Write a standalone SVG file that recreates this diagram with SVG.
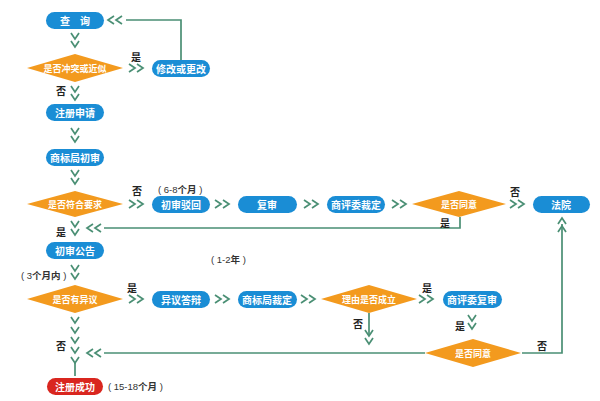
<svg xmlns="http://www.w3.org/2000/svg" width="600" height="401" viewBox="0 0 600 401">
<style>
.p{fill:#1a8dd5}
.d{fill:#f39a1e}
.r{fill:#d9261f}
.t{font-family:"Noto Sans CJK SC","Liberation Sans",sans-serif;font-size:10px;font-weight:bold;fill:#fff;text-anchor:middle;dominant-baseline:central}
.dt{font-size:9px}
.l{font-family:"Noto Sans CJK SC","Liberation Sans",sans-serif;font-size:10px;font-weight:bold;fill:#222;text-anchor:middle;dominant-baseline:central}
.n{font-family:"Liberation Sans","Noto Sans CJK SC",sans-serif;font-size:9.5px;fill:#333;dominant-baseline:central}
.c{fill:none;stroke:#4a8f74;stroke-width:1.7}
</style>
<defs>
<path id="dn" d="M-4,-3 L0,3 L4,-3"/>
<path id="up" d="M-4,3 L0,-3 L4,3"/>
<path id="rt" d="M-3,-4 L3,0 L-3,4"/>
<path id="lt" d="M3,-4 L-3,0 L3,4"/>
</defs>
<rect width="600" height="401" fill="#fff"/>

<g id="connectors" class="c">
<path d="M181,60 V20 H126"/>
<use href="#lt" x="111" y="20"/><use href="#lt" x="119" y="20"/>
<use href="#dn" x="75" y="36"/><use href="#dn" x="75" y="44"/>
<use href="#dn" x="75" y="89"/><use href="#dn" x="75" y="97"/>
<use href="#dn" x="75" y="131"/><use href="#dn" x="75" y="139"/>
<use href="#dn" x="75" y="173"/><use href="#dn" x="75" y="181"/>
<use href="#dn" x="75" y="224"/><use href="#dn" x="75" y="232"/>
<use href="#dn" x="75" y="268"/><use href="#dn" x="75" y="276"/>
<use href="#dn" x="75" y="320"/><use href="#dn" x="75" y="330"/><use href="#dn" x="75" y="340"/><use href="#dn" x="75" y="350"/><use href="#dn" x="75" y="360"/>
<path d="M75,363 V376"/>
<use href="#rt" x="132" y="68"/><use href="#rt" x="140" y="68"/>
<use href="#rt" x="132" y="204"/><use href="#rt" x="140" y="204"/>
<use href="#rt" x="218" y="204"/><use href="#rt" x="226" y="204"/>
<use href="#rt" x="307" y="204"/><use href="#rt" x="315" y="204"/>
<use href="#rt" x="395" y="204"/><use href="#rt" x="403" y="204"/>
<use href="#rt" x="513" y="204"/><use href="#rt" x="521" y="204"/>
<use href="#rt" x="132" y="299"/><use href="#rt" x="140" y="299"/>
<use href="#rt" x="218" y="299"/><use href="#rt" x="226" y="299"/>
<use href="#rt" x="304" y="299"/><use href="#rt" x="312" y="299"/>
<use href="#rt" x="422" y="299"/><use href="#rt" x="430" y="299"/>
<path d="M460,217 V228 H104"/>
<use href="#lt" x="90" y="228"/><use href="#lt" x="98" y="228"/>
<path d="M369,313 V336"/>
<use href="#dn" x="369" y="333"/><use href="#dn" x="369" y="341"/>
<use href="#dn" x="472" y="318"/><use href="#dn" x="472" y="326"/>
<path d="M425,353 H104"/>
<use href="#lt" x="90" y="353"/><use href="#lt" x="98" y="353"/>
<path d="M522,353 H562 V224"/>
<use href="#up" x="562" y="221"/><use href="#up" x="562" y="229"/>
</g>

<g id="n-chaxun"><rect class="p" x="46" y="12" width="58" height="17" rx="8.5"/><text class="t" x="75" y="20.5">查　询</text></g>
<g id="n-conflict"><polygon class="d" points="27,68 75,54 123,68 75,82"/><text class="t dt" x="75" y="68">是否冲突或近似</text></g>
<g id="n-modify"><rect class="p" x="152" y="60" width="58" height="17" rx="8.5"/><text class="t" x="181" y="68.5">修改或更改</text></g>
<g id="n-apply"><rect class="p" x="46" y="104" width="58" height="17" rx="8.5"/><text class="t" x="75" y="112.5">注册申请</text></g>
<g id="n-review"><rect class="p" x="46" y="149" width="58" height="17" rx="8.5"/><text class="t" x="75" y="157.5">商标局初审</text></g>
<g id="n-meet"><polygon class="d" points="27,204 75,191 123,204 75,217"/><text class="t dt" x="75" y="204">是否符合要求</text></g>
<g id="n-reject"><rect class="p" x="152" y="196" width="58" height="17" rx="8.5"/><text class="t" x="181" y="204.5">初审驳回</text></g>
<g id="n-recheck"><rect class="p" x="238" y="196" width="59" height="17" rx="8.5"/><text class="t" x="267" y="204.5">复审</text></g>
<g id="n-tradj"><rect class="p" x="327" y="196" width="58" height="17" rx="8.5"/><text class="t" x="356" y="204.5">商评委裁定</text></g>
<g id="n-agree1"><polygon class="d" points="412,204 459,191 506,204 459,217"/><text class="t dt" x="459" y="204">是否同意</text></g>
<g id="n-court"><rect class="p" x="533" y="196" width="57" height="17" rx="8.5"/><text class="t" x="561" y="204.5">法院</text></g>
<g id="n-announce"><rect class="p" x="46" y="242" width="58" height="17" rx="8.5"/><text class="t" x="75" y="250.5">初审公告</text></g>
<g id="n-objection"><polygon class="d" points="27,299 75,285 123,299 75,313"/><text class="t dt" x="75" y="299">是否有异议</text></g>
<g id="n-reply"><rect class="p" x="152" y="291" width="58" height="17" rx="8.5"/><text class="t" x="181" y="299.5">异议答辩</text></g>
<g id="n-tmadj"><rect class="p" x="238" y="291" width="59" height="17" rx="8.5"/><text class="t" x="267" y="299.5">商标局裁定</text></g>
<g id="n-reason"><polygon class="d" points="321,299 369,285 417,299 369,313"/><text class="t dt" x="369" y="299">理由是否成立</text></g>
<g id="n-trreview"><rect class="p" x="443" y="291" width="59" height="17" rx="8.5"/><text class="t" x="472" y="299.5">商评委复审</text></g>
<g id="n-agree2"><polygon class="d" points="425,353 473,339 521,353 473,367"/><text class="t dt" x="473" y="353">是否同意</text></g>
<g id="n-success"><rect class="r" x="47" y="378" width="56" height="17" rx="8.5"/><text class="t" x="75" y="386.5">注册成功</text></g>

<g id="labels">
<text class="l" x="136" y="56">是</text>
<text class="l" x="61" y="90">否</text>
<text class="l" x="137" y="190">否</text>
<text class="l" x="61" y="231">是</text>
<text class="l" x="515" y="191">否</text>
<text class="l" x="445" y="222">是</text>
<text class="l" x="132" y="287">是</text>
<text class="l" x="61" y="345">否</text>
<text class="l" x="427" y="287">是</text>
<text class="l" x="358" y="323">否</text>
<text class="l" x="460" y="325">是</text>
<text class="l" x="542" y="345">否</text>
<text class="n" x="158" y="189">( 6-8<tspan font-weight="bold" font-family="Noto Sans CJK SC,sans-serif">个月</tspan> )</text>
<text class="n" x="211" y="259">( 1-2<tspan font-weight="bold" font-family="Noto Sans CJK SC,sans-serif">年</tspan> )</text>
<text class="n" x="21" y="275">( 3<tspan font-weight="bold" font-family="Noto Sans CJK SC,sans-serif">个月内</tspan> )</text>
<text class="n" x="108" y="386">( 15-18<tspan font-weight="bold" font-family="Noto Sans CJK SC,sans-serif">个月</tspan> )</text>
</g>
</svg>
